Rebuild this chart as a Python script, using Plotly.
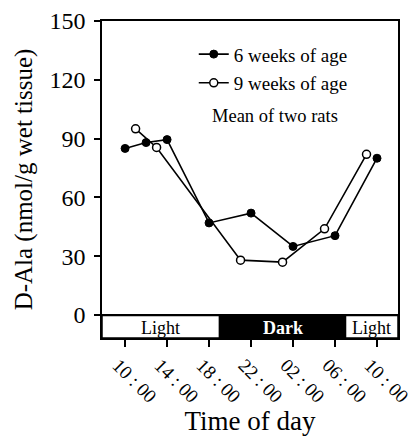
import plotly.graph_objects as go

# Data (hours after 10:00)
hours_6wk = [0, 2, 4, 8, 12, 16, 20, 24]
dala_6wk = [85, 88, 89.5, 47, 52, 35, 40.5, 80]
hours_9wk = [1, 3, 11, 15, 19, 23]
dala_9wk = [95, 85.5, 28, 27, 44, 82]

tick_hours = [0, 4, 8, 12, 16, 20, 24]
tick_labels = ["10 : 00", "14 : 00", "18 : 00", "22 : 00", "02 : 00", "06 : 00", "10 : 00"]
y_ticks = [0, 30, 60, 90, 120, 150]

phase_names = ["Light", "Dark", "Light"]
phase_start = [-2.2, 9, 21]
phase_end = [9, 21, 26]
bar_bottom = -11.7

FONT = "Liberation Serif"

fig = go.Figure()
fig.add_trace(go.Scatter(
    x=hours_6wk, y=dala_6wk, mode="lines+markers", name="6 weeks of age",
    legendgroup="a",
    line=dict(color="black", width=1.6),
    marker=dict(symbol="circle", size=8, color="black", line=dict(color="black", width=1)),
))
fig.add_trace(go.Scatter(
    x=hours_9wk, y=dala_9wk, mode="lines+markers", name="9 weeks of age",
    legendgroup="b",
    line=dict(color="black", width=1.6),
    marker=dict(symbol="circle", size=8, color="white", line=dict(color="black", width=1.5)),
))

for name, s, e in zip(phase_names, phase_start, phase_end):
    dark = name == "Dark"
    fig.add_shape(type="rect", xref="x", yref="y", x0=s, x1=e, y0=bar_bottom, y1=0,
                  fillcolor="black" if dark else "white",
                  line=dict(color="black", width=1.5), layer="below")
    fig.add_annotation(x=(s + e) / 2, y=bar_bottom / 2, xref="x", yref="y",
                       text=f"<b>{name}</b>" if dark else name,
                       showarrow=False, yshift=-1,
                       font=dict(family=FONT, size=18, color="white" if dark else "black"))

fig.add_shape(type="line", xref="paper", yref="y", x0=0, x1=1, y0=0, y1=0,
              line=dict(color="black", width=2.2))

fig.add_annotation(x=0.585, y=0.70, xref="paper", yref="paper", text="Mean of two rats",
                   showarrow=False, yanchor="middle",
                   font=dict(family=FONT, size=18.5, color="black"))

fig.update_layout(
    width=412, height=436,
    margin=dict(l=102, r=14, t=21, b=98),
    paper_bgcolor="white", plot_bgcolor="white",
    font=dict(family=FONT, color="black"),
    showlegend=True,
    legend=dict(x=0.31, y=0.955, xanchor="left", yanchor="top",
                bgcolor="rgba(0,0,0,0)", font=dict(family=FONT, size=19),
                itemwidth=30, tracegroupgap=1),
    xaxis=dict(
        range=[phase_start[0], phase_end[-1]], automargin=False,
        tickmode="array", tickvals=tick_hours, ticktext=tick_labels,
        tickangle=45, ticks="outside", ticklen=7, tickwidth=1.5, tickcolor="black",
        tickfont=dict(family=FONT, size=19), ticklabelshift=-7,
        ticklabeloverflow="allow",
        showline=True, linecolor="black", linewidth=1.5, mirror=True,
        showgrid=False, zeroline=False,
        title=dict(text="Time of day", font=dict(family=FONT, size=27), standoff=10),
    ),
    yaxis=dict(
        range=[bar_bottom, 150], automargin=False,
        tickmode="array", tickvals=y_ticks,
        ticks="outside", ticklen=6, tickwidth=1.5, tickcolor="black",
        tickfont=dict(family=FONT, size=24), ticklabelstandoff=4,
        showline=True, linecolor="black", linewidth=1.5, mirror=True,
        showgrid=False, zeroline=False,
        title=dict(text="D-Ala (nmol/g wet tissue)", font=dict(family=FONT, size=25), standoff=10),
    ),
)

fig.write_html("out.html")
